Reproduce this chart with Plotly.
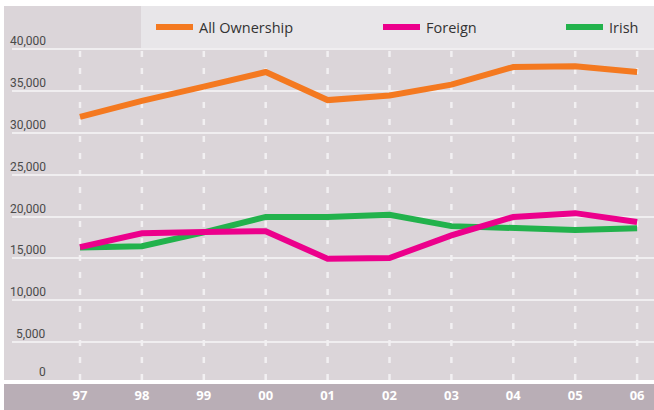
import plotly.graph_objects as go

years = ["97", "98", "99", "00", "01", "02", "03", "04", "05", "06"]
all_ownership = [31900, 33800, 35500, 37250, 33900, 34450, 35750, 37850, 37950, 37250]
foreign = [16350, 18000, 18150, 18250, 14950, 15050, 17750, 19950, 20400, 19350]
irish = [16300, 16450, 18100, 19950, 19950, 20200, 18850, 18650, 18400, 18600]
y_ticks = [0, 5000, 10000, 15000, 20000, 25000, 30000, 35000, 40000]
y_ticklabels = ["0", "5,000", "10,000", "15,000", "20,000", "25,000", "30,000", "35,000", "40,000"]
series = [("All Ownership", all_ownership, "#f47920"),
          ("Foreign", foreign, "#ec008c"),
          ("Irish", irish, "#22b24c")]

W, H = 654, 410
ML, MR, MT, MB = 12, 0, 6, 30
PW, PH = W - ML - MR, H - MT - MB
YMIN, YMAX = 478, 45134
XMIN, XMAX = -1.0986, 9.273


def px(xp):
    return (xp - ML) / PW


def py(yp):
    return (H - MB - yp) / PH


def vy(v):
    return (v - YMIN) / (YMAX - YMIN)


xs = list(range(len(years)))
fig = go.Figure()
# draw order: All Ownership, Irish, Foreign (foreign on top)
for idx in (0, 2, 1):
    name, vals, col = series[idx]
    fig.add_trace(go.Scatter(x=xs, y=vals, mode="lines", name=name,
                             line=dict(color=col, width=6), showlegend=False, hoverinfo="skip"))

shapes = []
# backgrounds
shapes.append(dict(type="rect", xref="paper", yref="paper", x0=px(4), x1=px(654), y0=py(380), y1=py(6),
                   fillcolor="#dbd5d9", line=dict(width=0), layer="below"))
shapes.append(dict(type="rect", xref="paper", yref="paper", x0=px(141), x1=px(654), y0=py(48), y1=py(6),
                   fillcolor="#e8e6e9", line=dict(width=0), layer="below"))
shapes.append(dict(type="rect", xref="paper", yref="paper", x0=px(4), x1=px(654), y0=py(410), y1=py(384),
                   fillcolor="#b9aeb6", line=dict(width=0), layer="below"))
# vertical dashed lines
for i in xs:
    shapes.append(dict(type="line", xref="x", yref="y", x0=i, x1=i, y0=YMIN, y1=39900,
                       line=dict(color="#f2f0f2", width=2.5, dash="6px,11px"), layer="between"))

annotations = []
# y labels
for v, t in zip(y_ticks, y_ticklabels):
    annotations.append(dict(xref="paper", yref="paper", x=px(48), y=vy(v), text=t, showarrow=False,
                            xanchor="right", yanchor="middle", yshift=8 if v > 0 else 12,
                            font=dict(family="Roboto", size=12, color="#4a4a4a")))

# legend
leg = [(156, 193, 197), (383, 420, 424), (566, 603, 607)]
for (x0, x1, xt), (name, vals, col) in zip(leg, series):
    shapes.append(dict(type="line", xref="paper", yref="paper", x0=px(x0), x1=px(x1), y0=py(27), y1=py(27),
                       line=dict(color=col, width=6)))
    annotations.append(dict(xref="paper", yref="paper", x=px(xt), y=py(27), text=name, showarrow=False,
                            xanchor="left", yanchor="middle",
                            font=dict(family="Open Sans", size=14.5, color="#333333")))

fig.update_layout(
    width=W, height=H,
    margin=dict(l=ML, r=MR, t=MT, b=MB),
    paper_bgcolor="white", plot_bgcolor="rgba(0,0,0,0)",
    shapes=shapes, annotations=annotations,
    xaxis=dict(range=[XMIN, XMAX], tickvals=xs, ticktext=years, showgrid=False, zeroline=False,
               showline=False, ticks="", ticklabelstandoff=6, fixedrange=True,
               tickfont=dict(family="Open Sans", size=13, color="white", weight="bold")),
    yaxis=dict(range=[YMIN, YMAX], tickvals=y_ticks[1:], showticklabels=False, showgrid=True,
               gridcolor="#f0eef0", gridwidth=1.5, zeroline=False, ticks="", fixedrange=True),
    showlegend=False,
    hovermode=False,
)
fig.write_html("out.html", config={"displayModeBar": False},
               post_script="document.body.style.margin='0';document.body.style.padding='0';document.body.style.overflow='hidden';")
